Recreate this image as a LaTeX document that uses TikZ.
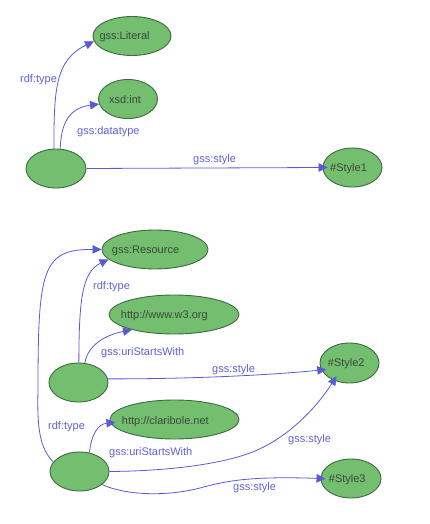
\documentclass[tikz,border=0pt]{standalone}
\usepackage{fontspec}
\setmainfont{Liberation Sans}
\usetikzlibrary{shapes.geometric,arrows.meta}
\definecolor{nodefill}{HTML}{74BE70}
\definecolor{nodeline}{HTML}{3D6B3D}
\definecolor{edgecol}{HTML}{5A5AD8}
\definecolor{labcol}{HTML}{6060D8}
\definecolor{txtcol}{HTML}{3A4A3A}
\begin{document}
\begin{tikzpicture}[x=1pt,y=-1pt,
  ell/.style={ellipse,draw=nodeline,fill=nodefill,line width=0.9pt,inner sep=0pt},
  ntext/.style={anchor=base west,inner sep=0pt,text=txtcol,font=\fontsize{11}{13}\selectfont},
  elab/.style={anchor=base west,inner sep=0pt,text=labcol,font=\fontsize{11}{13}\selectfont},
  conn/.style={draw=edgecol,line width=0.8pt,-{Triangle[length=9pt,width=8.5pt]}},
  deep/.style={shorten >=-5pt}]
\useasboundingbox (0,0) rectangle (429,524);

% nodes
\node[ell,minimum width=78pt,minimum height=39pt] (lit) at (132,36) {};
\node[ell,minimum width=59pt,minimum height=39pt] (xsd) at (128,99) {};
\node[ell,minimum width=60pt,minimum height=39pt] (b1) at (56,168.5) {};
\node[ell,minimum width=59pt,minimum height=39pt] (s1) at (352.5,167.5) {};
\node[ell,minimum width=106pt,minimum height=39pt] (res) at (155,249.5) {};
\node[ell,minimum width=130pt,minimum height=39pt] (w3) at (174,314.5) {};
\node[ell,minimum width=59pt,minimum height=40pt] (s2) at (349.5,363) {};
\node[ell,minimum width=59pt,minimum height=39pt] (b2) at (78.5,382.5) {};
\node[ell,minimum width=129pt,minimum height=39pt] (cla) at (174.5,419.5) {};
\node[ell,minimum width=59pt,minimum height=39pt] (b3) at (79.5,471.5) {};
\node[ell,minimum width=60pt,minimum height=39pt] (s3) at (351,478.5) {};

% node texts
\node[ntext] (tlit) at (99.3,40) {gss:Literal};
\node[ntext] (txsd) at (109,103) {xsd:int};
\node[ntext] (ts1) at (330,171.5) {\#Style1};
\node[ntext] (tres) at (111.7,253.4) {gss:Resource};
\node[ntext] (tw3) at (120.7,318.8) {http://www.w3.org};
\node[ntext] (ts2) at (327.7,366.8) {\#Style2};
\node[ntext] (tcla) at (121.7,424) {http://claribole.net};
\node[ntext] (ts3) at (328.7,482.4) {\#Style3};

% edges
\draw[conn] (b1.96) .. controls (54,90) and (55,60) .. (lit.188);
\draw[conn] (b1.78) .. controls (61,125) and (68,108) .. (xsd.190);
\draw[conn,deep] (b1.east) -- (s1.west);

\draw[conn] (b2.89) .. controls (79,300) and (82,272) .. (res.192);
\draw[conn] (b2.72) .. controls (88,345) and (105,335) .. (w3.200);
\draw[conn,deep] (b2.7) .. controls (180,379) and (260,376) .. (s2.194);

\draw[conn] (b3.160) .. controls (40,448) and (37,430) .. (38,390)
  .. controls (38,270) and (42,249) .. (res.west);
\draw[conn,deep] (b3.62) .. controls (91,435) and (98,424) .. (cla.183);
\draw[conn,deep] (b3.east) .. controls (170,471) and (220,464) .. (250,453)
  .. controls (285,440) and (315,410) .. (s2.228);
\draw[conn,deep] (b3.330) .. controls (125,495) and (165,497) .. (200,488)
  .. controls (225,481) and (250,476) .. (s3.west);

% edge labels
\node[elab] (l1) at (20,83) {rdf:type};
\node[elab] (l2) at (77,135) {gss:datatype};
\node[elab] (l3) at (193,162) {gss:style};
\node[elab] (l4) at (93,289) {rdf:type};
\node[elab] (l5) at (101,355) {gss:uriStartsWith};
\node[elab] (l6) at (212,372) {gss:style};
\node[elab] (l7) at (48,429) {rdf:type};
\node[elab] (l8) at (109,455) {gss:uriStartsWith};
\node[elab] (l9) at (288,442) {gss:style};
\node[elab] (l10) at (233,490) {gss:style};
\end{tikzpicture}
\end{document}
